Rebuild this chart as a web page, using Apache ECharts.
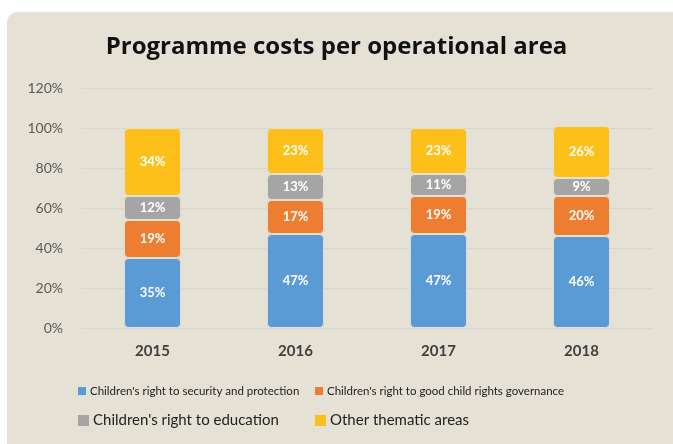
<!DOCTYPE html>
<html>
<head>
<meta charset="utf-8">
<script src="https://cdn.jsdelivr.net/npm/echarts@6/dist/echarts.min.js"></script>
<style>
  html, body { margin: 0; padding: 0; background: #fff; }
  #chart { width: 673px; height: 444px; }
</style>
</head>
<body>
<div id="chart"></div>
<script>
// data
const years = ['2015', '2016', '2017', '2018']
const seriesNames = [
  "Children's right to security and protection",
  "Children's right to good child rights governance",
  "Children's right to education",
  'Other thematic areas'
]
const security = [35, 47, 47, 46]
const governance = [19, 17, 19, 20]
const education = [12, 13, 11, 9]
const otherAreas = [34, 23, 23, 26]
const yTicks = [0, 20, 40, 60, 80, 100, 120]

const colors = ['#5b9bd5', '#ed7d31', '#a5a5a5', '#fdc01a']
const bg = '#e5e1d5'
const font = 'Lato, "Open Sans", sans-serif'

const chart = echarts.init(document.getElementById('chart'))

const makeSeries = (name, data, i) => ({
  name: name,
  type: 'bar',
  stack: 'total',
  data: data,
  barWidth: '40%',
  itemStyle: {
    color: colors[i],
    borderColor: bg,
    borderWidth: 1,
    borderRadius: 4
  },
  label: {
    show: true,
    position: 'inside',
    formatter: '{c}%',
    color: '#fff',
    fontWeight: 'bold',
    fontSize: 13,
    fontFamily: font
  }
})

// one legend per item so the two columns line up like the original
const legendPos = [
  { left: 76, top: 385, size: 11.5 },
  { left: 313, top: 385, size: 11.5 },
  { left: 76, top: 413, size: 15 },
  { left: 313, top: 413, size: 15 }
]

const option = {
  backgroundColor: '#fff',
  graphic: [{
    type: 'rect',
    shape: { x: 7, y: 12, width: 700, height: 460, r: [10, 0, 0, 0] },
    style: { fill: bg },
    z: -10
  }],
  title: {
    text: 'Programme costs per operational area',
    left: 'center',
    top: 30,
    textStyle: { fontSize: 24, fontWeight: 'bold', color: '#111', fontFamily: '"Open Sans", sans-serif' }
  },
  grid: { left: 81, right: 20, top: 88, bottom: 116 },
  legend: seriesNames.map((n, i) => ({
    data: [n],
    left: legendPos[i].left,
    top: legendPos[i].top,
    padding: 0,
    icon: 'rect',
    itemWidth: Math.round(legendPos[i].size) - 2,
    itemHeight: Math.round(legendPos[i].size) - 2,
    itemGap: 4,
    selectedMode: false,
    textStyle: { fontSize: legendPos[i].size, color: '#222', fontFamily: font, padding: [0, 0, 0, -2] }
  })),
  xAxis: {
    type: 'category',
    data: years,
    axisLine: { show: false },
    axisTick: { show: false },
    axisLabel: { color: '#404040', fontWeight: 'bold', fontSize: 15, margin: 16, fontFamily: font }
  },
  yAxis: {
    type: 'value',
    min: yTicks[0],
    max: yTicks[yTicks.length - 1],
    interval: 20,
    axisLine: { show: false },
    axisTick: { show: false },
    splitLine: { lineStyle: { color: '#d6d6d6', width: 1 } },
    axisLabel: { formatter: '{value}%', color: '#595959', fontSize: 14, margin: 18, fontFamily: font }
  },
  series: [
    makeSeries(seriesNames[0], security, 0),
    makeSeries(seriesNames[1], governance, 1),
    makeSeries(seriesNames[2], education, 2),
    makeSeries(seriesNames[3], otherAreas, 3)
  ]
}

chart.setOption(option)
</script>
</body>
</html>
